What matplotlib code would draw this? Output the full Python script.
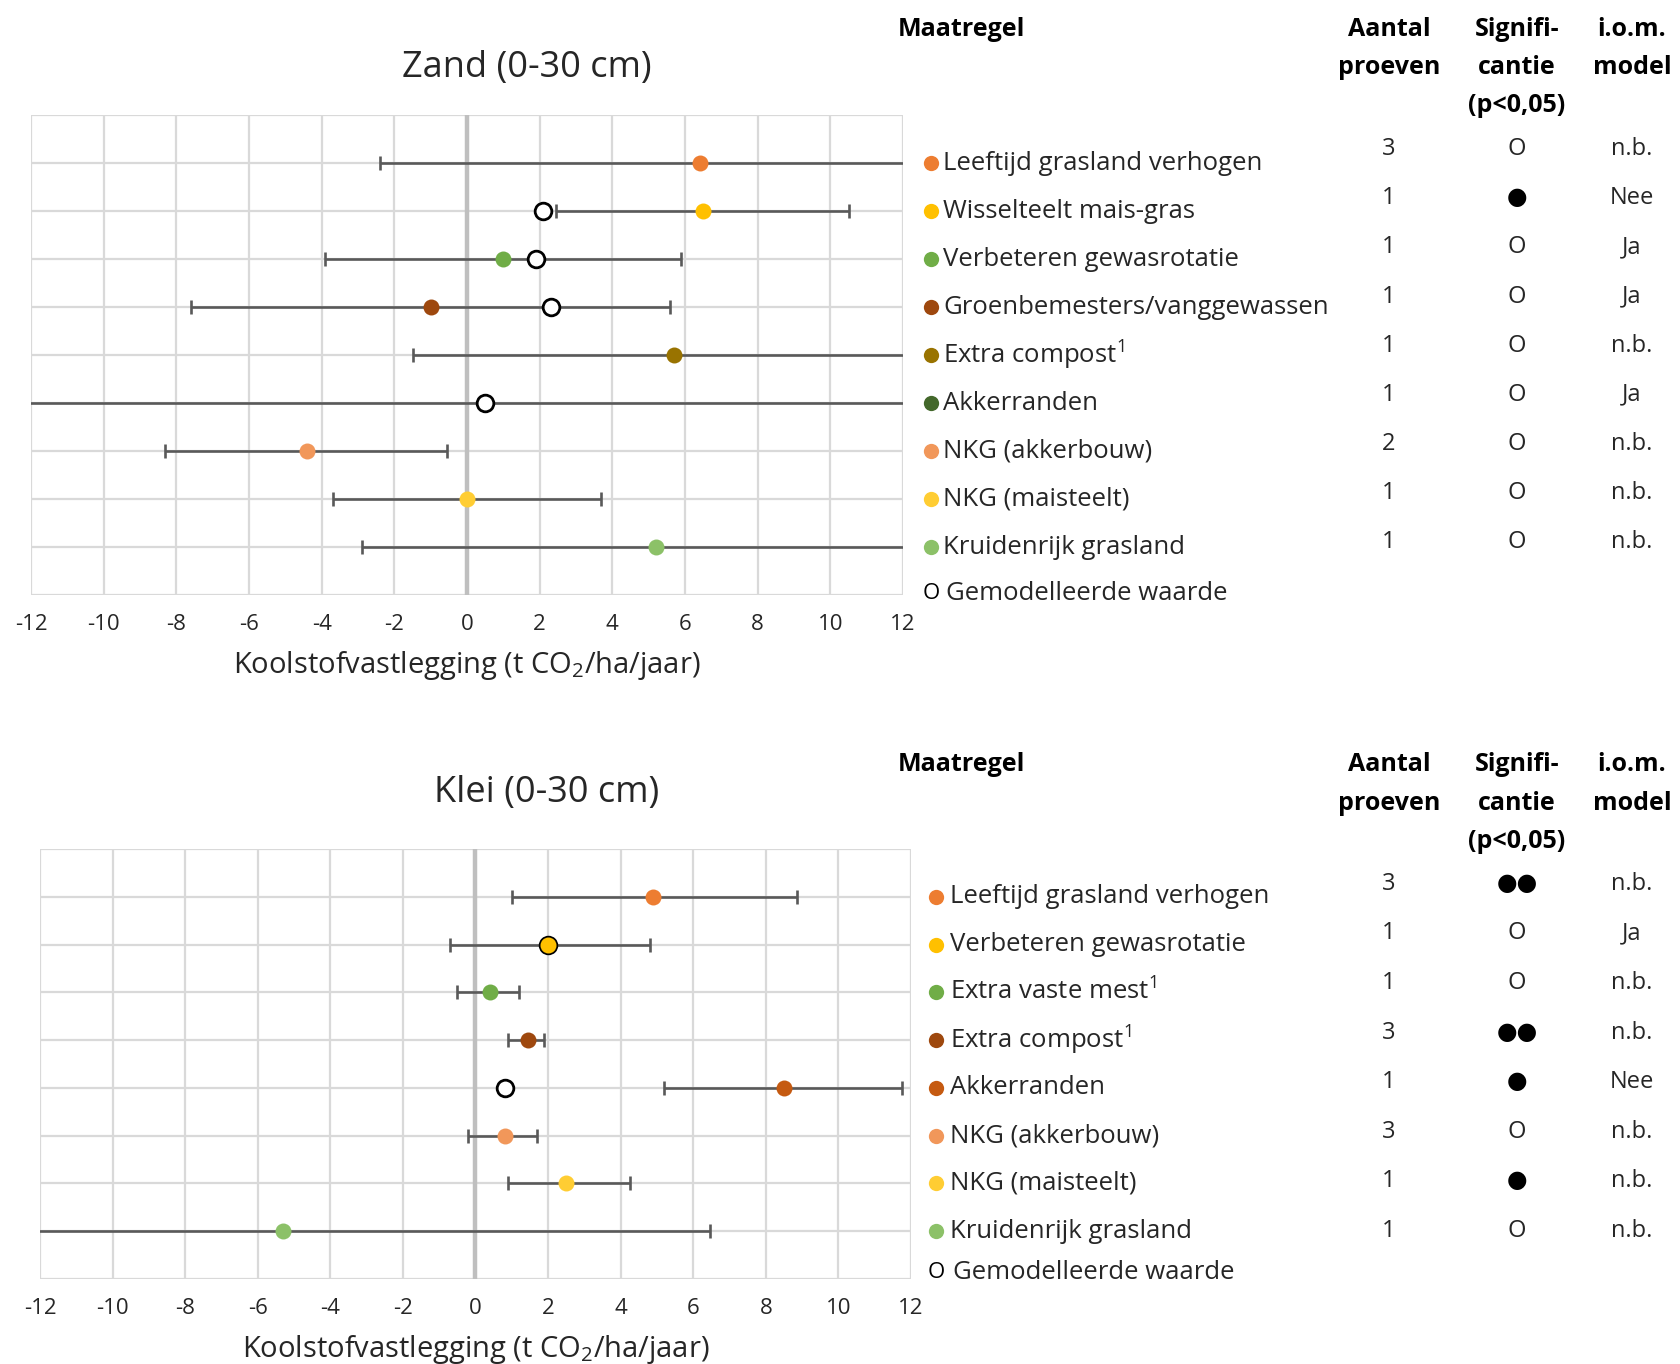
"""
Koolstofvastlegging per maatregel - zand en klei (0-30 cm)
"""

import matplotlib
matplotlib.use("Agg")
import matplotlib.pyplot as plt
from matplotlib import transforms

plt.rcParams['font.family'] = ['Open Sans', 'DejaVu Sans']
plt.rcParams['mathtext.fontset'] = 'custom'
plt.rcParams['mathtext.rm'] = 'Open Sans'
plt.rcParams['mathtext.it'] = 'Open Sans:italic'
plt.rcParams['mathtext.bf'] = 'Open Sans:bold'

W, H = 1680, 1364
TEXT = '#262626'
BAR = '#595959'
GRID = '#D9D9D9'

XTICKS = list(range(-12, 13, 2))
XLABEL = 'Koolstofvastlegging (t CO$_2$/ha/jaar)'
HEADERS = [['Aantal', 'proeven'], ['Signifi-', 'cantie', '(p<0,05)'], ['i.o.m.', 'model']]

# --- Zand (0-30 cm)
ZAND_LABELS = ['Leeftijd grasland verhogen', 'Wisselteelt mais-gras',
               'Verbeteren gewasrotatie', 'Groenbemesters/vanggewassen',
               'Extra compost$^1$', 'Akkerranden', 'NKG (akkerbouw)',
               'NKG (maisteelt)', 'Kruidenrijk grasland']
ZAND_VALUES = [6.4, 6.5, 1.0, -1.0, 5.7, None, -4.4, 0.0, 5.2]
ZAND_LOW = [-2.4, 2.45, -3.9, -7.6, -1.5, -14.0, -8.3, -3.7, -2.9]
ZAND_HIGH = [14.0, 10.5, 5.9, 5.6, 14.0, 14.0, -0.55, 3.7, 14.0]
ZAND_MODEL = [None, 2.1, 1.9, 2.3, None, 0.5, None, None, None]
ZAND_COLORS = ['#ED7D31', '#FFC000', '#70AD47', '#9E480E', '#997300',
               '#43682B', '#F1975A', '#FFCD33', '#8CC168']
ZAND_N = ['3', '1', '1', '1', '1', '1', '2', '1', '1']
ZAND_SIG = ['O', '●', 'O', 'O', 'O', 'O', 'O', 'O', 'O']
ZAND_IOM = ['n.b.', 'Nee', 'Ja', 'Ja', 'n.b.', 'Ja', 'n.b.', 'n.b.', 'n.b.']

# --- Klei (0-30 cm)
KLEI_LABELS = ['Leeftijd grasland verhogen', 'Verbeteren gewasrotatie',
               'Extra vaste mest$^1$', 'Extra compost$^1$', 'Akkerranden',
               'NKG (akkerbouw)', 'NKG (maisteelt)', 'Kruidenrijk grasland']
KLEI_VALUES = [4.9, 2.0, 0.4, 1.45, 8.5, 0.8, 2.5, -5.3]
KLEI_LOW = [1.0, -0.7, -0.5, 0.9, 5.2, -0.2, 0.9, -14.0]
KLEI_HIGH = [8.85, 4.8, 1.2, 1.9, 11.75, 1.7, 4.25, 6.45]
KLEI_MODEL = [None, 2.0, None, None, 0.8, None, None, None]
KLEI_COLORS = ['#ED7D31', '#FFC000', '#70AD47', '#9E480E', '#C55A11',
               '#F1975A', '#FFCD33', '#8CC168']
KLEI_N = ['3', '1', '1', '3', '1', '3', '1', '1']
KLEI_SIG = ['●●', 'O', 'O', '●●', '●', 'O', '●', 'O']
KLEI_IOM = ['n.b.', 'Ja', 'n.b.', 'n.b.', 'Nee', 'n.b.', 'n.b.', 'n.b.']


def fx(px):
    return px / W


def fy(py):
    return 1 - py / H


def panel(fig, box, title, title_xy, header_y, leg_x, labels, values, lows,
          highs, models, colors, n, sig, iom, table_rows, model_row):
    x0, y0, x1, y1 = box
    ax = fig.add_axes([fx(x0), fy(y1), fx(x1) - fx(x0), (y1 - y0) / H])
    rows = list(range(1, len(labels) + 1))

    ax.set_xlim(-12, 12)
    ax.set_ylim(len(labels) + 1, 0)
    ax.set_xticks(XTICKS)
    ax.set_xticklabels([str(t) for t in XTICKS])
    ax.set_yticks(range(0, len(labels) + 2))
    ax.set_yticklabels([])
    ax.tick_params(length=0, labelsize=16, labelcolor=TEXT, pad=14)
    ax.grid(True, color=GRID, lw=1.6)
    ax.set_axisbelow(True)
    for s in ax.spines.values():
        s.set_visible(False)
    ax.axvline(0, color='#BFBFBF', lw=3.2, zorder=1)
    ax.set_xlabel(XLABEL, fontsize=21, color=TEXT, labelpad=10)

    ax.hlines(rows, lows, highs, color=BAR, lw=1.9, zorder=2)
    ax.plot(lows, rows, '|', color=BAR, ms=10, mew=1.9, ls='none', zorder=2)
    ax.plot(highs, rows, '|', color=BAR, ms=10, mew=1.9, ls='none', zorder=2)

    for r, m in zip(rows, models):
        if m is not None:
            ax.plot(m, r, 'o', ms=12, mfc='white', mec='black', mew=2, zorder=3)
    for r, v, c in zip(rows, values, colors):
        if v is not None:
            ax.plot(v, r, 'o', ms=11.5, color=c, mec='none', zorder=4)

    fig.text(fx(title_xy[0]), fy(title_xy[1]), title, fontsize=26,
             color=TEXT, ha='center', va='center')

    # legend column and table, aligned to plot rows
    tr = transforms.blended_transform_factory(fig.transFigure, ax.transData)
    mx, tx = leg_x
    for r, lab, c in zip(rows, labels, colors):
        ax.plot(fx(mx), r, 'o', ms=11, color=c, mec='none',
                transform=tr, clip_on=False)
        ax.text(fx(tx), r, lab, transform=tr, fontsize=18.5, color=TEXT,
                ha='left', va='center')
    ax.text(fx(mx), model_row, 'O', transform=tr, fontsize=16, color='black',
            ha='center', va='center')
    ax.text(fx(tx) + 0.002, model_row, 'Gemodelleerde waarde', transform=tr,
            fontsize=18.5, color=TEXT, ha='left', va='center')

    cols = [1389, 1517, 1632]
    t0, step = table_rows
    for k, (a, s, i) in enumerate(zip(n, sig, iom)):
        for cx, val in zip(cols, [a, s, i]):
            ax.text(fx(cx), t0 + k * step, val, transform=tr, fontsize=17,
                    color='black' if val.startswith('●') else TEXT,
                    ha='center', va='center')

    fig.text(fx(898), fy(header_y), 'Maatregel', fontsize=18,
             fontweight='bold', color='black', ha='left', va='center')
    for cx, lines in zip(cols, HEADERS):
        for k, line in enumerate(lines):
            fig.text(fx(cx), fy(header_y + 38 * k), line, fontsize=18,
                     fontweight='bold', color='black', ha='center', va='center')
    return ax


def main():
    fig = plt.figure(figsize=(W / 100, H / 100), dpi=100)

    panel(fig, (31, 115, 903, 595), 'Zand (0-30 cm)', (527, 68), 29, (931, 943),
          ZAND_LABELS, ZAND_VALUES, ZAND_LOW, ZAND_HIGH, ZAND_MODEL,
          ZAND_COLORS, ZAND_N, ZAND_SIG, ZAND_IOM, (0.71, 1.024), 9.96)

    panel(fig, (40, 849, 911, 1279), 'Klei (0-30 cm)', (547, 793), 765, (936, 950),
          KLEI_LABELS, KLEI_VALUES, KLEI_LOW, KLEI_HIGH, KLEI_MODEL,
          KLEI_COLORS, KLEI_N, KLEI_SIG, KLEI_IOM, (0.73, 1.038), 8.86)

    fig.savefig('out.png', dpi=100)


if __name__ == '__main__':
    main()
